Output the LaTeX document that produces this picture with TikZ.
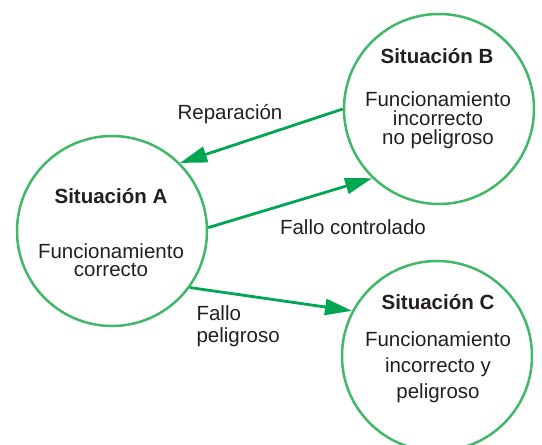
\documentclass[tikz,border=0pt]{standalone}
\usepackage{fontspec}
\setmainfont{Liberation Sans}
\usetikzlibrary{arrows.meta}
\definecolor{ringgreen}{RGB}{64,184,104}
\definecolor{arrowgreen}{RGB}{0,166,81}
\definecolor{textgray}{RGB}{35,31,32}
\tikzset{
  situacion/.style={circle,draw=ringgreen,line width=2.5pt,minimum size=190pt,inner sep=0pt},
  titulo/.style={font={\fontsize{20.5}{20}\selectfont\bfseries},text=textgray,anchor=base},
  cuerpo/.style={font={\fontsize{20.5}{#1}\selectfont},text=textgray,align=center,anchor=base},
  etiqueta/.style={font={\fontsize{20.5}{22}\selectfont},text=textgray,anchor=base},
  flecha/.style={draw=arrowgreen,line width=2.8pt,-{Triangle[length=27pt,width=16pt]}}
}
\begin{document}
\begin{tikzpicture}[x=1pt,y=-1pt]
\useasboundingbox (0,0) rectangle (542,445);

\node [situacion] (A) at (112,231) {};
\node [situacion] (B) at (439,109) {};
\node [situacion] (C) at (437,356) {};

% base = last line
\node [titulo] (tA) at (111,203) {Situación A};
\node [cuerpo=18] (fA) at (111,276) {Funcionamiento\\correcto};

\node [titulo] (tB) at (437,63) {Situación B};
\node [cuerpo=19] (fB) at (438,144) {Funcionamiento\\incorrecto\\no peligroso};

\node [titulo] (tC) at (438,309) {Situación C};
\node [cuerpo=26] (fC) at (438,398) {Funcionamiento\\incorrecto y\\peligroso};

\draw [flecha] (B.west) -- (A.45);
\draw [flecha] (A.2) -- (B.226);
\draw [flecha] (A.-36) -- (C.152);

\node [etiqueta] (rep) at (230,119) {Reparación};
\node [etiqueta] (ctl) at (353,234) {Fallo controlado};
\node [etiqueta,anchor=base west,align=left] (pel) at (193,342) {Fallo\\peligroso};

\end{tikzpicture}
\end{document}
